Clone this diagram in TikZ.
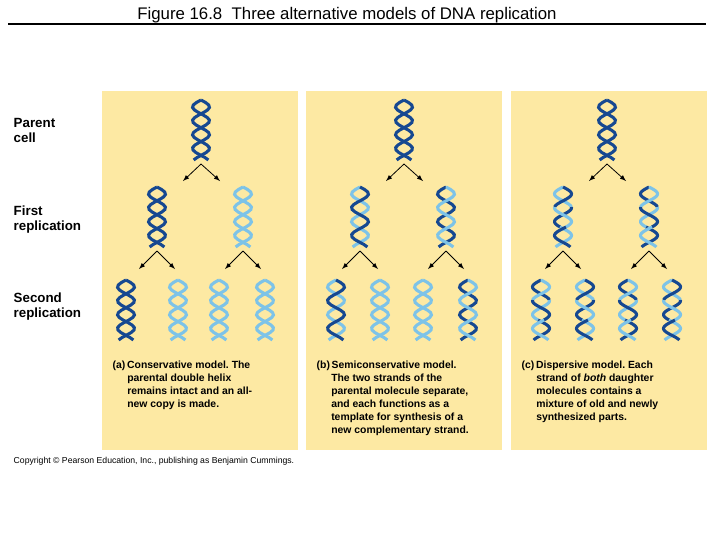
\documentclass[tikz,border=0pt]{standalone}
\usepackage{fontspec}
\setmainfont{Liberation Sans}
\begin{document}
\definecolor{panel}{RGB}{253,233,163}
\definecolor{old}{RGB}{22,72,145}
\definecolor{new}{RGB}{125,195,232}
% one strand piece: cx, top y, from, to, colour, phase
\newcommand{\strandpart}[6]{\draw[#5,line width=2.3pt] plot[domain=#3:#4,samples=25] ({#1+8.5*sin(\x*13+#6)},{#2+\x});}
% full helix: cx, top y, colour of strand one, colour of strand two
\newcommand{\dnahelix}[4]{\strandpart{#1}{#2}{0}{60}{#4}{180}\strandpart{#1}{#2}{0}{60}{#3}{0}}
% mixed helix for the dispersive model
\newcommand{\mixhelix}[4]{%
  \strandpart{#1}{#2}{0}{20}{#4}{180}\strandpart{#1}{#2}{20}{40}{#3}{180}\strandpart{#1}{#2}{40}{60}{#4}{180}%
  \strandpart{#1}{#2}{0}{20}{#3}{0}\strandpart{#1}{#2}{20}{40}{#4}{0}\strandpart{#1}{#2}{40}{60}{#3}{0}}
\begin{tikzpicture}[x=0.75pt,y=0.75pt,yscale=-1,xscale=1,
  split/.style={-latex,line width=0.6pt},
  rowlbl/.style={anchor=north west,align=left,font=\fontsize{10}{11.2}\selectfont\bfseries},
  capt/.style={anchor=north west,align=left,font=\fontsize{7.8}{9.8}\selectfont\bfseries}]
\useasboundingbox (0,0) rectangle (720,540);

%Title
\node (title) at (347,15) {\fontsize{12.6}{14}\selectfont Figure 16.8\ \ Three alternative models of DNA replication};
\draw[line width=1pt] (8,24) -- (706,24);

%Row labels
\node[rowlbl] (parent) at (9,114) {Parent\\cell};
\node[rowlbl] (first) at (9,201) {First\\replication};
\node[rowlbl] (second) at (9,288) {Second\\replication};

%Panels
\foreach \px in {102,306,511}
  \fill[panel] (\px,91) rectangle ++(196,359);

%Arrows, the same in every panel
\foreach \dx in {0,203,406}{
  \begin{scope}[xshift=\dx*0.75pt]
  \coordinate (top) at (201,164);
  \coordinate (left) at (157,251);
  \coordinate (right) at (243,251);
  \draw[split] (top) -- (183,181);
  \draw[split] (top) -- (220,181);
  \draw[split] (left) -- (139,269);
  \draw[split] (left) -- (175,269);
  \draw[split] (right) -- (225,269);
  \draw[split] (right) -- (261,269);
  \end{scope}
}

%Conservative
\dnahelix{201}{100}{old}{old}
\dnahelix{157}{187}{old}{old}
\dnahelix{243}{187}{new}{new}
\dnahelix{126}{280}{old}{old}
\dnahelix{178}{280}{new}{new}
\dnahelix{219}{280}{new}{new}
\dnahelix{265}{280}{new}{new}

%Semiconservative
\dnahelix{404}{100}{old}{old}
\dnahelix{360}{187}{old}{new}
\dnahelix{446}{187}{new}{old}
\dnahelix{336}{280}{old}{new}
\dnahelix{380}{280}{new}{new}
\dnahelix{423}{280}{new}{new}
\dnahelix{468}{280}{new}{old}

%Dispersive
\dnahelix{607}{100}{old}{old}
\mixhelix{563}{187}{old}{new}
\mixhelix{649}{187}{new}{old}
\mixhelix{541}{280}{new}{old}
\mixhelix{585}{280}{old}{new}
\mixhelix{628}{280}{new}{old}
\mixhelix{672}{280}{old}{new}

%Captions
\node[capt] (capa) at (108,356) {(a)\,Conservative model.\ The\\
\hspace*{1.4em}parental double helix\\ \hspace*{1.4em}remains intact and an all-\\ \hspace*{1.4em}new copy is made.};
\node[capt] (capb) at (312,356) {(b)\,Semiconservative model.\\
\hspace*{1.4em}The two strands of the\\ \hspace*{1.4em}parental molecule separate,\\
\hspace*{1.4em}and each functions as a\\ \hspace*{1.4em}template for synthesis of a\\ \hspace*{1.4em}new complementary strand.};
\node[capt] (capc) at (517,356) {(c)\,Dispersive model.\ Each\\
\hspace*{1.4em}strand of \textit{both} daughter\\ \hspace*{1.4em}molecules contains a\\
\hspace*{1.4em}mixture of old and newly\\ \hspace*{1.4em}synthesized parts.};

%Copyright
\node[anchor=west,font=\fontsize{6.5}{7}\selectfont] (copy) at (9,461) {Copyright \textcopyright{} Pearson Education, Inc., publishing as Benjamin Cummings.};
\end{tikzpicture}
\end{document}
